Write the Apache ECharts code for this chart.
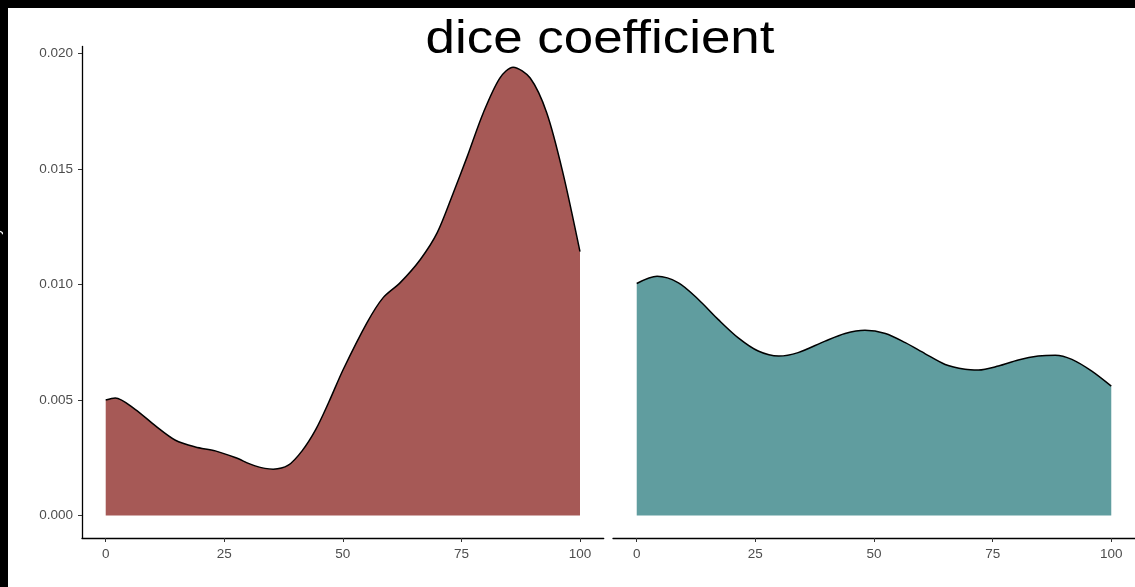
<!DOCTYPE html>
<html>
<head>
<meta charset="utf-8">
<script src="https://cdn.jsdelivr.net/npm/echarts@6/dist/echarts.min.js"></script>
<style>html,body{margin:0;padding:0;background:#fff}#c{width:1135px;height:587px}</style>
</head>
<body>
<div id="c"></div>
<script>
var titleText = 'dice coefficient';
var yAxisTitle = 'density';
var xTicks = [0, 25, 50, 75, 100];
var yTicks = [0, 0.005, 0.010, 0.015, 0.020];

var redX = [0, 2, 6.2, 10.5, 14.7, 18.9, 23.1, 27.3, 31.5, 35.3, 38.5, 41.4, 44.3, 47, 50.1, 55.1, 58.5, 62.1, 66.3, 69.9, 73.3, 76.2, 79.6, 83.1, 85.9, 89.5, 93, 96.4, 100];
var redY = [0.00500, 0.00509, 0.00460, 0.00388, 0.00326, 0.00297, 0.00280, 0.00251, 0.00215, 0.00201, 0.00218, 0.00280, 0.00373, 0.00489, 0.00633, 0.00835, 0.00943, 0.01008, 0.01107, 0.01224, 0.01397, 0.01552, 0.01742, 0.01893, 0.01940, 0.01893, 0.01742, 0.01483, 0.01142];

var tealX = [0, 4.3, 8.8, 13, 17.2, 21.4, 25.6, 29.9, 34, 39.7, 43.9, 48.1, 52.4, 56.6, 60.8, 65, 69.2, 72, 76.2, 80.4, 84.6, 88.2, 91.7, 95.9, 100];
var tealY = [0.01004, 0.01035, 0.01007, 0.00935, 0.00848, 0.00769, 0.00712, 0.00690, 0.00705, 0.00755, 0.00788, 0.00802, 0.00788, 0.00748, 0.00700, 0.00654, 0.00633, 0.00630, 0.00647, 0.00673, 0.00690, 0.00694, 0.00676, 0.00625, 0.00560];

function pairs(xs, ys) { return xs.map(function (x, i) { return [x, ys[i]]; }); }

var FONT = "'Liberation Sans', Arial, Helvetica, sans-serif";
var yMin = -0.00097, yMax = 0.0203;
var xMin = -5, xMax = 105;

function xAxisCfg(idx) {
  return {
    type: 'value', gridIndex: idx, min: xMin, max: xMax,
    splitLine: { show: false },
    axisLine: { show: true, onZero: false, lineStyle: { color: '#000', width: 1.3 } },
    axisTick: { show: true, length: 4, lineStyle: { color: '#333', width: 1 }, customValues: xTicks },
    axisLabel: { color: '#4d4d4d', fontSize: 13.5, fontFamily: FONT, margin: 9, customValues: xTicks }
  };
}

var chart = echarts.init(document.getElementById('c'), null, { renderer: 'canvas' });
chart.setOption({
  backgroundColor: '#fff',
  animation: false,
  grid: [
    { left: 82, top: 46.4, width: 521.7, height: 491.6 },
    { left: 613, top: 46.4, width: 522, height: 491.6 }
  ],
  xAxis: [xAxisCfg(0), xAxisCfg(1)],
  yAxis: [
    {
      type: 'value', gridIndex: 0, min: yMin, max: yMax,
      splitLine: { show: false },
      axisLine: { show: true, onZero: false, lineStyle: { color: '#000', width: 1.3 } },
      axisTick: { show: true, length: 4, lineStyle: { color: '#333', width: 1 }, customValues: yTicks },
      axisLabel: {
        color: '#4d4d4d', fontSize: 13.5, fontFamily: FONT, margin: 9, customValues: yTicks,
        formatter: function (v) { return v.toFixed(3); }
      }
    },
    {
      type: 'value', gridIndex: 1, min: yMin, max: yMax, show: false,
      splitLine: { show: false }
    }
  ],
  series: [
    {
      type: 'line', xAxisIndex: 0, yAxisIndex: 0, data: pairs(redX, redY),
      smooth: 0.3, symbol: 'none',
      lineStyle: { color: '#000', width: 1.5 },
      areaStyle: { color: '#A65956', opacity: 1, origin: 0 }
    },
    {
      type: 'line', xAxisIndex: 1, yAxisIndex: 1, data: pairs(tealX, tealY),
      smooth: 0.3, symbol: 'none',
      lineStyle: { color: '#000', width: 1.5 },
      areaStyle: { color: '#609D9F', opacity: 1, origin: 0 }
    }
  ],
  graphic: [
    { type: 'rect', shape: { x: 0, y: 0, width: 1135, height: 8 }, style: { fill: '#000' }, z: 100 },
    { type: 'rect', shape: { x: 0, y: 0, width: 8, height: 587 }, style: { fill: '#000' }, z: 100 },
    {
      type: 'text', x: 3, y: 250, rotation: Math.PI / 2, z: 101,
      style: { text: yAxisTitle, fill: '#fff', font: '14px ' + FONT, align: 'center', verticalAlign: 'bottom' }
    },
    {
      type: 'text', x: 600, y: 40, scaleX: 1.15, z: 101,
      style: { text: titleText, fill: '#000', font: '46px ' + FONT, align: 'center', verticalAlign: 'middle' }
    }
  ]
});
</script>
</body>
</html>
